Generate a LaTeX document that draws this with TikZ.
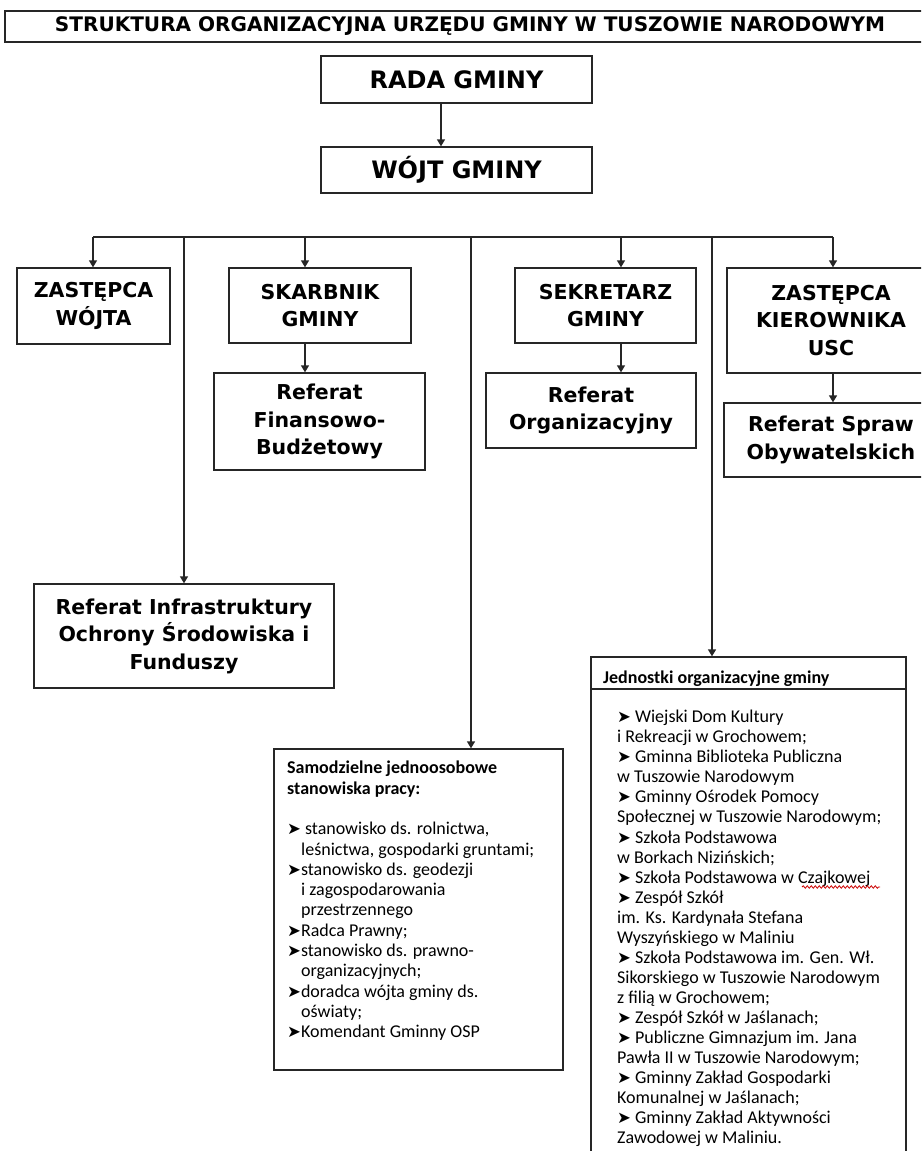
\documentclass[tikz,border=0pt]{standalone}
\usepackage{graphicx}
\usepackage{fontspec}
\setmainfont{DejaVu Sans}
\newfontfamily\carl{Carlito}
\newfontfamily\djv{DejaVu Sans}
\usetikzlibrary{arrows.meta,decorations.pathmorphing}
\newcommand\bul{{\djv\fontsize{16.5}{16.5}\selectfont ➤}}
\newcommand\ind{\hspace*{14pt}}
\begin{document}
\begin{tikzpicture}[x=1pt,y=-1pt,
  box/.style={draw=black!85, line width=1.3pt, fill=white, align=center, inner sep=0pt,
    font=\bfseries\fontsize{20.5}{27.5}\selectfont},
  bigbox/.style={box, font=\bfseries\fontsize{24}{28}\selectfont},
  conn/.style={draw=black!85, line width=1.3pt},
  arr/.style={conn, -{Triangle[length=7pt,width=8pt]}},
  list/.style={anchor=north west, align=left, inner sep=0pt, font=\carl\fontsize{18}{20.3}\selectfont}
]
\useasboundingbox (0,0) rectangle (921,1151);
\clip (0,0) rectangle (921,1151);
\fill[white] (0,0) rectangle (921,1151);

% title
\node[box, minimum width=930pt, minimum height=31pt, font=\bfseries\fontsize{20}{22}\selectfont] (title) at (470,26.5)
  {\resizebox{830pt}{\height}{STRUKTURA ORGANIZACYJNA URZĘDU GMINY W TUSZOWIE NARODOWYM}};

% top
\node[bigbox, minimum width=271pt, minimum height=47pt] (rada) at (456.5,79.5) {RADA GMINY};
\node[bigbox, minimum width=271pt, minimum height=46pt] (wojt) at (456.5,170) {WÓJT GMINY};

% second row
\node[box, minimum width=153pt, minimum height=76pt] (zw) at (93.5,306) {ZASTĘPCA\\WÓJTA};
\node[box, minimum width=182pt, minimum height=75pt] (skarb) at (320,305.5) {SKARBNIK\\GMINY};
\node[box, minimum width=211pt, minimum height=97pt] (reffin) at (319.5,421.5) {Referat\\Finansowo-\\Budżetowy};
\node[box, minimum width=181pt, minimum height=75pt] (sekr) at (605.5,305.5) {SEKRETARZ\\GMINY};
\node[box, minimum width=210pt, minimum height=75pt] (reforg) at (591,410.5) {Referat\\Organizacyjny};
\node[box, minimum width=208pt, minimum height=105pt] (usc) at (831,320.5) {ZASTĘPCA\\KIEROWNIKA\\USC};
\node[box, minimum width=214pt, minimum height=74pt] (refspr) at (831,440) {Referat Spraw\\Obywatelskich};
\node[box, minimum width=300pt, minimum height=104pt] (refinf) at (184,636) {Referat Infrastruktury\\Ochrony Środowiska i\\Funduszy};

% bottom boxes
\node[box, minimum width=289pt, minimum height=321pt] (samo) at (418.5,909.5) {};
\node[box, minimum width=315pt, minimum height=515pt] (jedn) at (748.5,914.5) {};
\coordinate (sepy) at (0,689);
\draw[conn] (jedn.west |- sepy) -- (jedn.east |- sepy);

\node[list] (samotxt) at (287,761) {%
{\bfseries Samodzielne jednoosobowe}\\
{\bfseries stanowiska pracy:}\\[20.3pt]
\bul\ stanowisko ds. rolnictwa,\\
\ind leśnictwa, gospodarki gruntami;\\
\bul stanowisko ds. geodezji\\
\ind i zagospodarowania\\
\ind przestrzennego\\
\bul Radca Prawny;\\
\bul stanowisko ds. prawno-\\
\ind organizacyjnych;\\
\bul doradca wójta gminy ds.\\
\ind oświaty;\\
\bul Komendant Gminny OSP};

\node[list] (jednhead) at (603,671) {\bfseries Jednostki organizacyjne gminy};
\node[list, font=\carl\fontsize{18}{20.05}\selectfont] (jedntxt) at (617,710) {%
\bul\ Wiejski Dom Kultury\\
i Rekreacji w Grochowem;\\
\bul\ Gminna Biblioteka Publiczna\\
w Tuszowie Narodowym\\
\bul\ Gminny Ośrodek Pomocy\\
Społecznej w Tuszowie Narodowym;\\
\bul\ Szkoła Podstawowa\\
w Borkach Nizińskich;\\
\bul\ Szkoła Podstawowa w Czajkowej\\
\bul\ Zespół Szkół\\
im. Ks. Kardynała Stefana\\
Wyszyńskiego w Maliniu\\
\bul\ Szkoła Podstawowa im. Gen. Wł.\\
Sikorskiego w Tuszowie Narodowym\\
z filią w Grochowem;\\
\bul\ Zespół Szkół w Jaślanach;\\
\bul\ Publiczne Gimnazjum im. Jana\\
Pawła II w Tuszowie Narodowym;\\
\bul\ Gminny Zakład Gospodarki\\
Komunalnej w Jaślanach;\\
\bul\ Gminny Zakład Aktywności\\
Zawodowej w Maliniu.};

% spell-check squiggle under "Czajkowej"
\draw[red!80!black, line width=0.8pt, decorate, decoration={snake, amplitude=1.2pt, segment length=4pt}] (802,887) -- (880,887);

% connectors
\coordinate (rw) at (441,0);
\draw[arr] (rw |- rada.south) -- (rw |- wojt.north);

\coordinate (b0) at (93,237);
\coordinate (b1) at (184,237);
\coordinate (b2) at (305,237);
\coordinate (b3) at (471,237);
\coordinate (b4) at (621,237);
\coordinate (b5) at (712,237);
\coordinate (b6) at (833,237);
\draw[conn] (b0) -- (b6);
\draw[arr] (b0) -- (b0 |- zw.north);
\draw[arr] (b1) -- (b1 |- refinf.north);
\draw[arr] (b2) -- (b2 |- skarb.north);
\draw[arr] (b3) -- (b3 |- samo.north);
\draw[arr] (b4) -- (b4 |- sekr.north);
\draw[arr] (b5) -- (b5 |- jedn.north);
\draw[arr] (b6) -- (b6 |- usc.north);
\draw[arr] (b2 |- skarb.south) -- (b2 |- reffin.north);
\draw[arr] (b4 |- sekr.south) -- (b4 |- reforg.north);
\draw[arr] (b6 |- usc.south) -- (b6 |- refspr.north);
\end{tikzpicture}
\end{document}
